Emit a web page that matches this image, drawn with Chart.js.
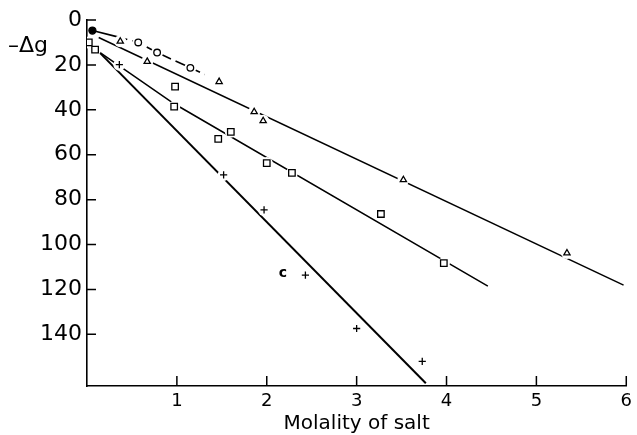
<!DOCTYPE html>
<html>
<head>
<meta charset="utf-8">
<script src="https://cdn.jsdelivr.net/npm/chart.js@4/dist/chart.umd.min.js"></script>
<style>
  html, body { margin: 0; padding: 0; background: #fff; }
  #box { width: 637px; height: 435px; position: relative; }
</style>
</head>
<body>
<div id="box"><canvas id="salt_graph"></canvas></div>
<script>
//Tick labels
const xTicks = [1, 2, 3, 4, 5, 6];
const yTicks = [0, 20, 40, 60, 80, 100, 120, 140];

//Measured points (molality, -dg)
const dotX = [0.06];
const dotY = [4.7];
const circleX = [0.57, 0.78, 1.15];
const circleY = [10.0, 14.5, 21.3];
const triX = [0.37, 0.67, 1.47, 1.86, 1.96, 3.52, 5.34];
const triY = [9.5, 18.5, 27.5, 40.9, 44.9, 71.2, 103.8];
const squareX = [0.02, 0.09, 0.97, 0.98, 1.46, 1.60, 2.00, 2.28, 3.27, 3.97];
const squareY = [10.0, 13.2, 38.6, 29.7, 52.9, 49.8, 63.7, 68.1, 86.4, 108.3];
const plusX = [0.36, 1.52, 1.97, 2.43, 3.00, 3.73];
const plusY = [19.9, 69.0, 84.6, 113.6, 137.4, 152.0];

//Drawn curves
const curveX = [0.06, 0.33, 0.57, 0.78, 1.15, 1.31];
const curveY = [4.7, 7.4, 10.0, 14.5, 21.3, 24.3];
const triLineX = [0.13, 5.97];
const triLineY = [7.8, 118.1];
const sqLineX = [0.13, 0.97, 4.46];
const sqLineY = [14.1, 37.3, 118.5];
const plusLineX = [0.13, 3.77];
const plusLineY = [14.1, 161.8];

const pts = (xs, ys) => xs.map((x, i) => ({x: x, y: ys[i]}));

//------------------------------------------

const lineSet = (xs, ys, w) => ({
  data: pts(xs, ys), showLine: true, borderColor: '#000', borderWidth: w,
  pointRadius: 0, order: 3
});
const markSet = (xs, ys, style, r, fill) => ({
  data: pts(xs, ys), showLine: false, pointStyle: style, pointRadius: r,
  pointBorderColor: '#000', pointBackgroundColor: fill || '#fff', pointBorderWidth: 1.3, order: 1
});
const haloSet = (xs, ys) => ({
  data: pts(xs, ys), showLine: false, pointStyle: 'circle', pointRadius: 6,
  pointBorderWidth: 0, pointBackgroundColor: '#fff', pointBorderColor: '#fff', order: 2
});

const curve = lineSet(curveX, curveY, 1.6);
curve.segment = {borderDash: c => c.p0DataIndex === 0 ? [] : [11, 5]};

const datasets = [
  curve,
  lineSet(triLineX, triLineY, 1.5),
  lineSet(sqLineX, sqLineY, 1.5),
  lineSet(plusLineX, plusLineY, 2),
  haloSet(circleX, circleY),
  haloSet(triX, triY),
  haloSet(squareX, squareY),
  haloSet(plusX, plusY),
  markSet(dotX, dotY, 'circle', 3.5, '#000'),
  markSet(circleX, circleY, 'circle', 3.3),
  markSet(triX, triY, 'triangle', 3.6),
  markSet(squareX, squareY, 'rect', 4.6),
  markSet(plusX, plusY, 'cross', 3.6)
];

//inward ticks + loose labels
const extras = {
  id: 'extras',
  afterDraw(chart) {
    const {ctx, chartArea: {left, bottom}, scales: {x, y}} = chart;
    ctx.save();
    ctx.strokeStyle = '#000';
    ctx.lineWidth = 1.5;
    ctx.beginPath();
    yTicks.forEach(v => { const py = y.getPixelForValue(v); ctx.moveTo(left, py); ctx.lineTo(left + 9, py); });
    xTicks.forEach(v => { const px = x.getPixelForValue(v); ctx.moveTo(px, bottom); ctx.lineTo(px, bottom - 10); });
    ctx.stroke();
    ctx.fillStyle = '#000';
    ctx.textBaseline = 'middle';
    ctx.textAlign = 'center';
    ctx.font = '22px "DejaVu Sans"';
    ctx.fillText('–Δg', 28, 46);
    ctx.font = 'bold 14px "DejaVu Sans"';
    ctx.fillText('c', x.getPixelForValue(2.18), y.getPixelForValue(113));
    ctx.restore();
  }
};

const config = {
  type: 'scatter',
  data: {datasets: datasets},
  options: {
    responsive: true,
    maintainAspectRatio: false,
    animation: false,
    layout: {padding: {top: 20, right: 5, bottom: 0, left: 0}},
    plugins: {legend: {display: false}, tooltip: {enabled: false}},
    scales: {
      x: {
        type: 'linear', min: 0, max: 6,
        afterBuildTicks: s => { s.ticks = xTicks.map(v => ({value: v})); },
        afterFit: s => { s.height = 49; },
        grid: {display: false, drawTicks: false},
        border: {display: true, color: '#000', width: 1.6},
        ticks: {color: '#000', padding: 5, font: {family: 'DejaVu Sans', size: 18}},
        title: {display: true, text: 'Molality of salt', color: '#000', padding: {top: 0, bottom: 1},
          font: {family: 'DejaVu Sans', size: 20, lineHeight: 1}}
      },
      y: {
        type: 'linear', min: 0, max: 163, reverse: true,
        afterBuildTicks: s => { s.ticks = yTicks.map(v => ({value: v})); },
        afterFit: s => { s.width = 87; },
        grid: {display: false, drawTicks: false},
        border: {display: true, color: '#000', width: 1.6},
        ticks: {color: '#000', padding: 5, font: {family: 'DejaVu Sans', size: 22}}
      }
    }
  },
  plugins: [extras]
};

//Render chart
const salt_graph = new Chart(document.getElementById('salt_graph'), config);
</script>
</body>
</html>
